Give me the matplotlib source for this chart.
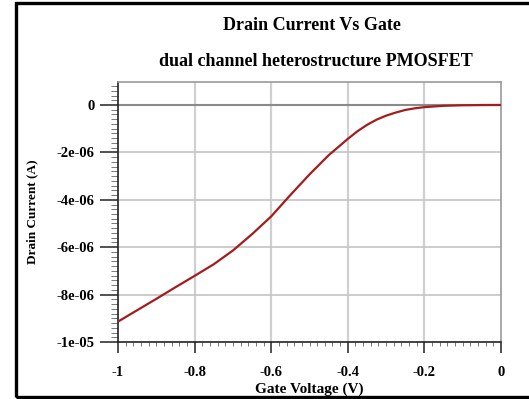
#Drain current vs gate voltage chart
#dual channel heterostructure PMOSFET

import matplotlib
matplotlib.use("Agg")
import matplotlib.pyplot as plt
from matplotlib.patches import Rectangle
from matplotlib.ticker import MultipleLocator, FuncFormatter

#data
gate_voltage = [-1.0, -0.95, -0.9, -0.85, -0.8, -0.75, -0.7, -0.65, -0.6, -0.55,
                -0.5, -0.45, -0.4, -0.375, -0.35, -0.325, -0.3, -0.275, -0.25,
                -0.225, -0.2, -0.15, -0.1, -0.05, 0.0]
drain_current = [-9.14e-6, -8.66e-6, -8.18e-6, -7.69e-6, -7.21e-6, -6.72e-6, -6.14e-6,
                 -5.45e-6, -4.7e-6, -3.8e-6, -2.93e-6, -2.12e-6, -1.43e-6, -1.11e-6,
                 -0.84e-6, -0.62e-6, -0.45e-6, -0.32e-6, -0.21e-6, -0.14e-6, -0.09e-6,
                 -0.035e-6, -0.012e-6, -0.003e-6, 0.0]

x_ticks = [-1, -0.8, -0.6, -0.4, -0.2, 0]
y_ticks = [0, -2e-6, -4e-6, -6e-6, -8e-6, -1e-5]

plt.rcParams["font.family"] = "Liberation Serif"
plt.rcParams["font.weight"] = "bold"
plt.rcParams["axes.unicode_minus"] = False

fig = plt.figure(figsize=(5.29, 3.99), dpi=100)
ax = fig.add_axes([0.2231, 0.1429, 0.724, 0.6516])

#grid lines
for v in x_ticks[1:-1]:
    ax.axvline(v, color="#d0d0d0", lw=1.6, zorder=1)
for v in y_ticks[1:-1]:
    ax.axhline(v, color="#c4c4c4", lw=1.2, zorder=1)
ax.axhline(0, color="#8a8a8a", lw=1.5, zorder=1)

#the curve
ax.plot(gate_voltage, drain_current, color="#a31d1d", lw=1.6, zorder=3)

ax.set_xlim(-1, 0)
ax.set_ylim(-1e-5, 0.97e-6)

ax.set_xticks(x_ticks)
ax.set_yticks(y_ticks)
ax.xaxis.set_minor_locator(MultipleLocator(0.02))
ax.yaxis.set_minor_locator(MultipleLocator(0.2e-6))
fmt = FuncFormatter(lambda v, p: f"{v:g}")
ax.xaxis.set_major_formatter(fmt)
ax.yaxis.set_major_formatter(fmt)

ax.tick_params(axis="y", which="major", length=13, width=1.2, color="#333333", pad=4, labelsize=10.5)
ax.tick_params(axis="y", which="minor", length=5, width=0.7, color="#777777")
ax.tick_params(axis="x", which="major", length=8, width=1.2, color="#333333", pad=9, labelsize=10.5)
ax.tick_params(axis="x", which="minor", length=3, width=0.7, color="#777777")

for s in ["top", "right"]:
    ax.spines[s].set_color("#999999")
    ax.spines[s].set_linewidth(1.2)
for s in ["left", "bottom"]:
    ax.spines[s].set_color("#222222")
    ax.spines[s].set_linewidth(1.2)

#labels
ax.set_xlabel("Gate Voltage (V)", fontsize=11, fontweight="bold", labelpad=3)
ax.set_ylabel("Drain Current (A)", fontsize=9.5, fontweight="bold", labelpad=13)
fig.text(0.59, 0.937, "Drain Current Vs Gate", ha="center", va="center", fontsize=13, fontweight="bold")
fig.text(0.598, 0.845, "dual channel heterostructure PMOSFET", ha="center", va="center", fontsize=13, fontweight="bold")

#outer black frame
fig.patches.append(Rectangle((0.03, 0.006), 1.0, 0.986, transform=fig.transFigure,
                             fill=False, edgecolor="black", lw=2.4, clip_on=False))

plt.savefig("out.png", dpi=100)
